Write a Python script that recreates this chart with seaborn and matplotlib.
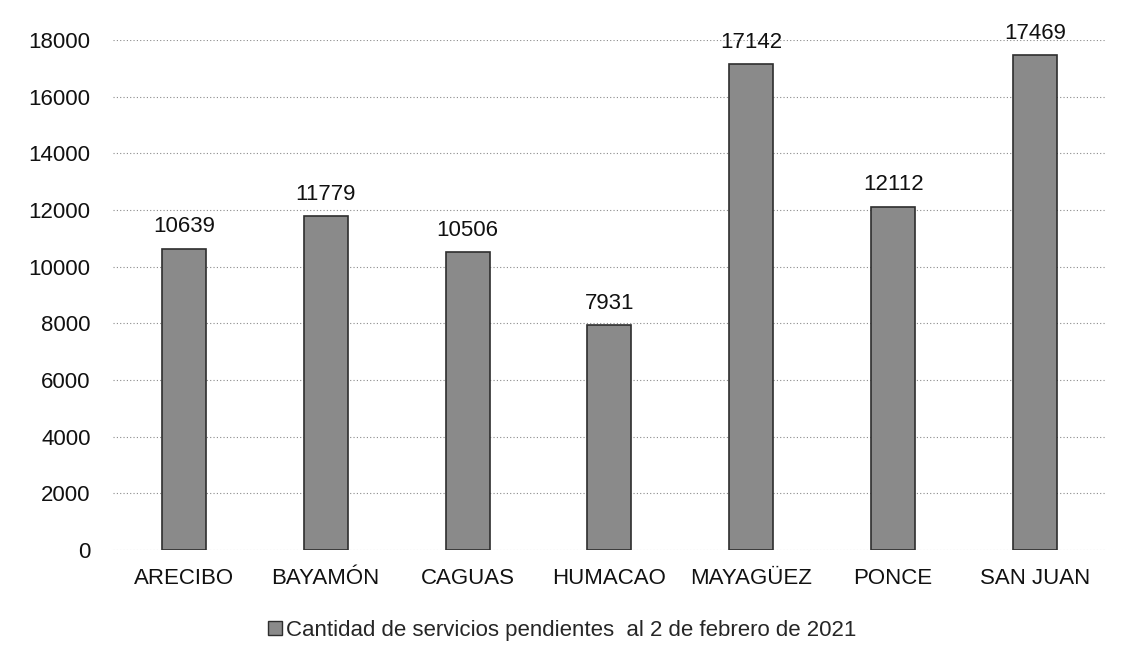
import pandas as pd
import numpy as np
import seaborn as sns
import matplotlib.pyplot as plt
from matplotlib.patches import Patch

# data
regiones = ['ARECIBO', 'BAYAMÓN', 'CAGUAS', 'HUMACAO', 'MAYAGÜEZ', 'PONCE', 'SAN JUAN']
pendientes = [10639, 11779, 10506, 7931, 17142, 12112, 17469]
yticks = [0, 2000, 4000, 6000, 8000, 10000, 12000, 14000, 16000, 18000]
serie = 'Cantidad de servicios pendientes  al 2 de febrero de 2021'

df = pd.DataFrame({'region': regiones, 'valor': pendientes})

sns.set_theme(style='white')
plt.rcParams['font.family'] = ['Liberation Sans', 'DejaVu Sans']

fig = plt.figure(figsize=(11.25, 6.64), dpi=100)
ax = fig.add_axes([0.1004, 0.1717, 0.8826, 0.7681])

sns.barplot(data=df, x='region', y='valor', color='#8a8a8a', width=0.31,
            edgecolor='#2e2e2e', linewidth=1.2, saturation=1, ax=ax, zorder=3)

for i, v in enumerate(pendientes):
    ax.text(i, v + 400, str(v), ha='center', va='bottom', fontsize=16,
            color='#111111', clip_on=False)

ax.set_ylim(0, 18000)
ax.set_yticks(yticks)
ax.set_xlim(-0.5, len(regiones) - 0.5)
ax.grid(axis='y', linestyle=(0, (1, 2)), color='#8a8a8a', linewidth=0.8, zorder=0)
ax.grid(axis='x', visible=False)
for s in ax.spines.values():
    s.set_visible(False)
ax.set_xlabel('')
ax.set_ylabel('')
ax.tick_params(axis='both', labelsize=16, colors='#111111', length=0)
ax.tick_params(axis='y', pad=16)
ax.tick_params(axis='x', pad=13)

handle = Patch(facecolor='#8a8a8a', edgecolor='#2e2e2e', label=serie)
fig.legend(handles=[handle], loc='center', bbox_to_anchor=(0.5, 0.051), frameon=False,
           fontsize=16, handlelength=0.6, handleheight=0.6, handletextpad=0.2)

fig.savefig('out.png', dpi=100, facecolor='white')
